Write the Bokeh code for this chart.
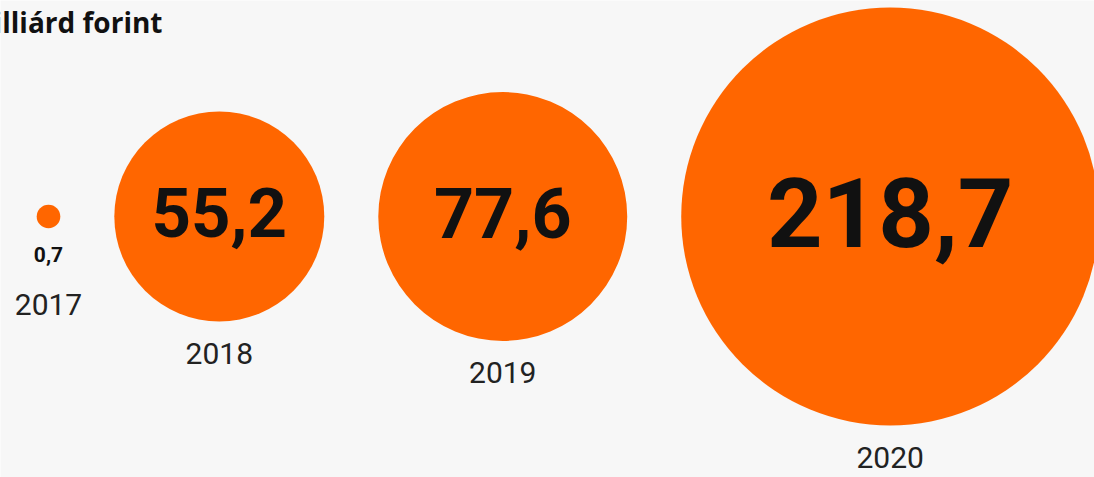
import math
from bokeh.plotting import figure
from bokeh.models import Range1d, ColumnDataSource
from bokeh.core.properties import value
from bokeh.embed import file_html
from bokeh.resources import INLINE

# ---- data ----
years = ["2017", "2018", "2019", "2020"]
values = [0.7, 55.2, 77.6, 218.7]
value_labels = ["0,7", "55,2", "77,6", "218,7"]
title_text = "Milliárd forint"

# ---- style / layout ----
W, H = 1094, 477
BG = "#f7f7f7"
ORANGE = "#ff6600"
K = 14.13          # px radius per sqrt(value)
GAP = 54           # gap between bubble edges
X0 = 48            # first bubble centre
CY = 216
value_font_sizes = ["21px", "69px", "70px", "97px"]

radii = [K * math.sqrt(v) for v in values]
xs = []
for i, r in enumerate(radii):
    if i == 0:
        xs.append(X0)
    else:
        xs.append(xs[-1] + radii[i - 1] + GAP + r)

small = [r < 30 for r in radii]
val_y = [CY + r + 26 if s else CY - 4 for r, s in zip(radii, small)]
year_y = [CY + r + 76 if s else CY + r + 32 for r, s in zip(radii, small)]

p = figure(width=W, height=H, output_backend="svg", toolbar_location=None,
           x_range=Range1d(0, W), y_range=Range1d(H, 0),
           x_axis_type=None, y_axis_type=None, min_border=0)
p.grid.visible = False
p.outline_line_color = None
p.background_fill_color = BG
p.border_fill_color = BG

src = ColumnDataSource(dict(x=xs, y=[CY] * len(xs), r=radii, year=years,
                            lab=value_labels, vy=val_y, yy=year_y,
                            fs=value_font_sizes))

p.circle(x="x", y="y", radius="r", source=src, fill_color=ORANGE,
         line_color=None)

p.text(x="x", y="vy", text="lab", source=src, text_font=value("Roboto"),
       text_font_style="bold", text_font_size="fs", text_color="#111111",
       text_align="center", text_baseline="middle")

p.text(x="x", y="yy", text="year", source=src, text_font=value("Roboto"),
       text_font_size="30px", text_color="#222222",
       text_align="center", text_baseline="middle")

p.text(x=[162], y=[21], text=[title_text], text_font=value("Open Sans"),
       text_font_style="bold", text_font_size="28px", text_color="#111111",
       text_align="right", text_baseline="middle")

open("out.html", "w").write(file_html(p, INLINE))
